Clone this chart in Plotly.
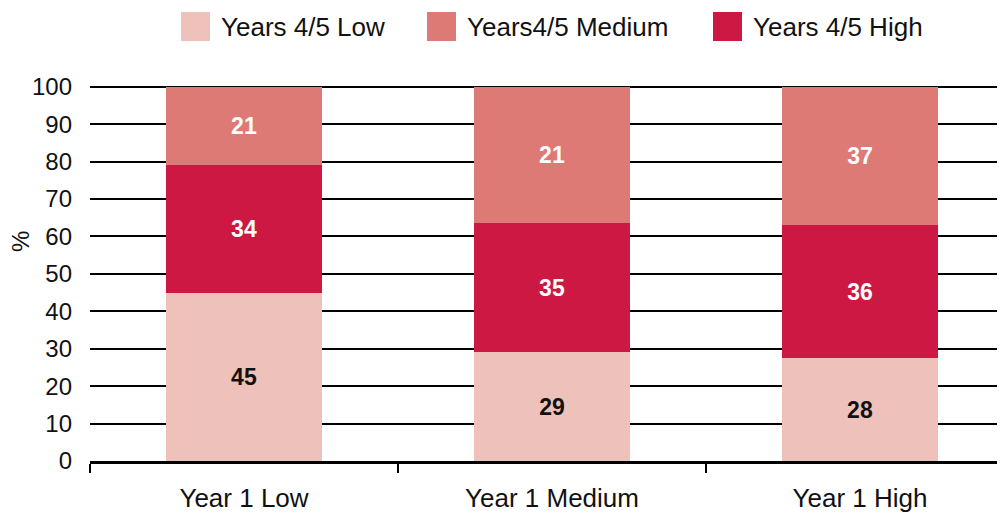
import plotly.graph_objects as go

categories = ["Year 1 Low", "Year 1 Medium", "Year 1 High"]

# segment heights as drawn in the chart (stacked to 100)
low_heights = [45, 29, 27.5]
high_heights = [34, 34.5, 35.5]
medium_heights = [21, 36.5, 37]

# the numbers printed on the segments
low_labels = ["45", "29", "28"]
high_labels = ["34", "35", "36"]
medium_labels = ["21", "21", "37"]

series_names = ["Years 4/5 Low", "Years4/5 Medium", "Years 4/5 High"]
colors = {"low": "#EEC1BA", "medium": "#DE7A76", "high": "#CC1842"}

FONT = "Liberation Sans, Arial, Helvetica, sans-serif"

fig = go.Figure()

# stacking order bottom->top: Low, High, Medium
stack = [
    (low_heights, low_labels, colors["low"], "#111111", series_names[0]),
    (high_heights, high_labels, colors["high"], "white", series_names[2]),
    (medium_heights, medium_labels, colors["medium"], "white", series_names[1]),
]
for heights, labels, color, tcolor, name in stack:
    fig.add_trace(
        go.Bar(
            x=categories,
            y=heights,
            name=name,
            text=labels,
            texttemplate="<b>%{text}</b>",
            textposition="inside",
            insidetextanchor="middle",
            textangle=0,
            textfont=dict(color=tcolor, size=23, family=FONT),
            marker=dict(color=color, line=dict(width=0)),
            width=0.507,
            showlegend=False,
        )
    )

# page body adds an 8px offset; pixel positions below are in figure
# coordinates. The plot runs past the right edge (clipped like the original).
W, H = 1013, 505
plot_left, plot_right, plot_bottom = 82, 1013, 453
plot_top = 75
pw, ph = plot_right - plot_left, plot_bottom - plot_top
cat_px = 308  # pixel width of one category slot


def px_x(px):
    return (px - plot_left) / pw


def px_y(py):
    return (plot_bottom - py) / ph


# manual legend with large square swatches
legend_items = [
    (series_names[0], colors["low"], 173),
    (series_names[1], colors["medium"], 419),
    (series_names[2], colors["high"], 705),
]
for name, color, x0 in legend_items:
    fig.add_shape(
        type="rect", xref="paper", yref="paper",
        x0=px_x(x0), x1=px_x(x0 + 29), y0=px_y(33), y1=px_y(4),
        fillcolor=color, line=dict(width=0),
    )
    fig.add_annotation(
        xref="paper", yref="paper", x=px_x(x0 + 38), y=px_y(19),
        text=name, showarrow=False, xanchor="left", yanchor="middle",
        font=dict(size=26, color="#111111", family=FONT),
    )

# y-axis title "%"
fig.add_annotation(
    xref="paper", yref="paper", x=px_x(13), y=px_y(234),
    text="%", textangle=-90, showarrow=False,
    xanchor="center", yanchor="middle",
    font=dict(size=24, color="#111111", family=FONT),
)

fig.update_layout(
    barmode="stack",
    width=W,
    height=H,
    margin=dict(l=plot_left, r=W - plot_right, t=plot_top, b=H - plot_bottom),
    paper_bgcolor="white",
    plot_bgcolor="white",
    font=dict(family=FONT, color="#111111"),
    showlegend=False,
)

fig.update_xaxes(
    type="category",
    range=[-0.5, -0.5 + pw / cat_px],
    automargin=False,
    showline=True,
    linecolor="black",
    linewidth=2.5,
    ticks="outside",
    tickson="boundaries",
    ticklen=9,
    tickwidth=2,
    tickcolor="black",
    showgrid=False,
    ticklabelstandoff=12,
    tickfont=dict(size=26, color="#111111"),
)

fig.update_yaxes(
    range=[0, 101],
    automargin=False,
    tickvals=list(range(0, 101, 10)),
    showgrid=True,
    gridcolor="black",
    gridwidth=1.6,
    zeroline=False,
    ticks="",
    ticklabelstandoff=17,
    tickfont=dict(size=24, color="#111111"),
)

fig.write_html("out.html")
